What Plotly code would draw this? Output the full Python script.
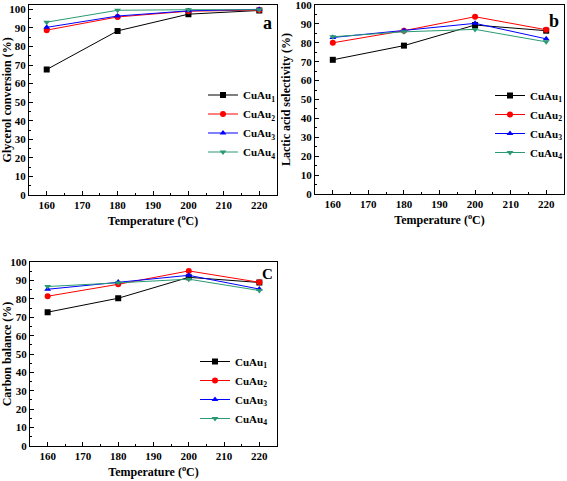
import plotly.graph_objects as go

temps = [160, 180, 200, 220]
series_names = ["CuAu<sub>1</sub>", "CuAu<sub>2</sub>", "CuAu<sub>3</sub>", "CuAu<sub>4</sub>"]

# Panel a: glycerol conversion (%)
conv_cuau1 = [67.6, 88.4, 97.4, 99.4]
conv_cuau2 = [88.8, 95.9, 99.0, 99.6]
conv_cuau3 = [90.3, 96.4, 99.2, 100.0]
conv_cuau4 = [93.1, 99.5, 99.8, 99.8]

# Panel b: lactic acid selectivity (%)
sel_cuau1 = [71.0, 78.5, 89.4, 86.4]
sel_cuau2 = [80.0, 86.4, 93.8, 86.9]
sel_cuau3 = [82.8, 86.5, 90.3, 82.1]
sel_cuau4 = [83.2, 85.8, 87.1, 80.5]

# Panel c: carbon balance (%)
cb_cuau1 = [72.8, 80.4, 91.8, 89.0]
cb_cuau2 = [81.5, 88.0, 95.3, 89.1]
cb_cuau3 = [85.3, 89.3, 92.9, 85.4]
cb_cuau4 = [86.8, 88.9, 90.8, 84.6]

x_ticks = [160, 170, 180, 190, 200, 210, 220]
y_ticks = [0, 10, 20, 30, 40, 50, 60, 70, 80, 90, 100]

colors = ["#000000", "#ff0000", "#0000ff", "#2a9a72"]
symbols = ["square", "circle", "triangle-up", "triangle-down"]
FONT = "Liberation Serif"
W, H = 567, 481

panels = [
    dict(data=[conv_cuau1, conv_cuau2, conv_cuau3, conv_cuau4], xa="x", ya="y", legend="legend",
         ytitle="Glycerol conversion (%)", yrange=[0, 102.5]),
    dict(data=[sel_cuau1, sel_cuau2, sel_cuau3, sel_cuau4], xa="x2", ya="y2", legend="legend2",
         ytitle="Lactic acid selectivity (%)", yrange=[0, 100]),
    dict(data=[cb_cuau1, cb_cuau2, cb_cuau3, cb_cuau4], xa="x3", ya="y3", legend="legend3",
         ytitle="Carbon balance (%)", yrange=[0, 100]),
]

fig = go.Figure()
for p in panels:
    for i, vals in enumerate(p["data"]):
        fig.add_trace(go.Scatter(
            x=temps, y=vals, mode="lines+markers", name=series_names[i],
            xaxis=p["xa"], yaxis=p["ya"], legend=p["legend"],
            line=dict(color=colors[i], width=1),
            marker=dict(symbol=symbols[i], size=6, color=colors[i]),
        ))

def px_x(v):
    return v / W

def px_y(v):
    return 1 - v / H

domains = [
    ([29, 277], [195, 4.7]),
    ([315, 564], [194, 5]),
    ([30, 277], [445.7, 262.3]),
]

tickfont = dict(family=FONT, size=11, color="black", weight="bold")
titlefont = dict(family=FONT, size=12, color="black", weight="bold")

layout = dict(
    width=W, height=H,
    margin=dict(l=0, r=0, t=0, b=0, autoexpand=False),
    paper_bgcolor="white", plot_bgcolor="white",
    showlegend=True,
)

for k, p in enumerate(panels):
    (xl, xr), (yb, yt) = domains[k]
    sx = "" if k == 0 else str(k + 1)
    layout["xaxis" + sx] = dict(
        domain=[px_x(xl), px_x(xr)], range=[155, 225], anchor="y" + sx, automargin=False,
        tickvals=x_ticks, ticks="inside", ticklen=4, tickwidth=1, tickcolor="black",
        minor=dict(ticks="inside", ticklen=2, dtick=5, tickcolor="black"),
        showline=True, linecolor="black", linewidth=1.2, mirror=True,
        showgrid=False, zeroline=False, tickfont=tickfont, ticklabeloverflow="allow",
        title=dict(text="Temperature (<sup>o</sup>C)", font=titlefont, standoff=6),
    )
    layout["yaxis" + sx] = dict(
        domain=[px_y(yb), px_y(yt)], range=p["yrange"], anchor="x" + sx, automargin=False,
        tickvals=y_ticks, ticks="inside", ticklen=4, tickwidth=1, tickcolor="black",
        minor=dict(ticks="inside", ticklen=2, dtick=5, tickcolor="black"),
        showline=True, linecolor="black", linewidth=1.2, mirror=True,
        showgrid=False, zeroline=False, tickfont=tickfont, ticklabeloverflow="allow",
        title=dict(text=p["ytitle"], font=titlefont, standoff=2),
    )

legend_pos = [(203, 123.5), (490, 124), (195, 390)]
for k, (lx, ly) in enumerate(legend_pos):
    key = "legend" if k == 0 else "legend" + str(k + 1)
    layout[key] = dict(
        x=px_x(lx), y=px_y(ly), xanchor="left", yanchor="middle",
        font=dict(family=FONT, size=11, color="black", weight="bold"),
        bgcolor="rgba(0,0,0,0)", itemwidth=30, tracegroupgap=0,
    )

label_font = dict(family=FONT, size=18, color="black", weight="bold")
layout["annotations"] = [
    dict(text="a", x=px_x(267), y=px_y(23), xref="paper", yref="paper", showarrow=False,
         xanchor="center", yanchor="middle", font=label_font),
    dict(text="b", x=px_x(554), y=px_y(21), xref="paper", yref="paper", showarrow=False,
         xanchor="center", yanchor="middle", font=label_font),
    dict(text="C", x=px_x(267), y=px_y(274), xref="paper", yref="paper", showarrow=False,
         xanchor="center", yanchor="middle",
         font=dict(family=FONT, size=15, color="black", weight="bold")),
]

fig.update_layout(**layout)
fig.write_html("out.html", config={"displayModeBar": False},
               post_script="document.body.style.margin='0';")
